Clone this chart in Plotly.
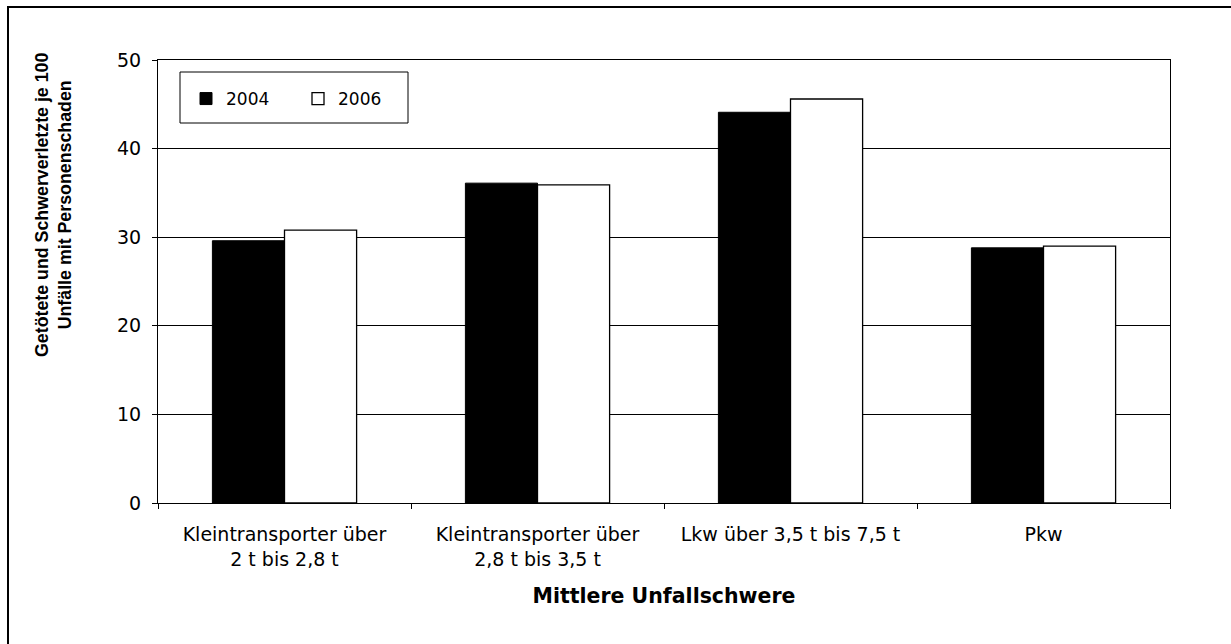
import plotly.graph_objects as go

# --- data ---------------------------------------------------------------
categories = [
    'Kleintransporter über<br>2 t bis 2,8 t',
    'Kleintransporter über<br>2,8 t bis 3,5 t',
    'Lkw über 3,5 t bis 7,5 t',
    'Pkw',
]
values_2004 = [29.6, 36.1, 44.1, 28.8]
values_2006 = [30.8, 35.9, 45.6, 29.0]
y_ticks = [0, 10, 20, 30, 40, 50]
y_title = 'Getötete und Schwerverletzte je 100<br>Unfälle mit Personenschaden'
x_title = 'Mittlere Unfallschwere'

# reference text looks like a horizontally stretched Helvetica -> DejaVu Sans fits widths
WIDE = 'DejaVu Sans, Verdana, sans-serif'
NARROW = 'Liberation Sans, Arial, sans-serif'

W, H = 1231, 644
L, R, T, B = 158, 61, 60, 141
pw, ph = W - L - R, H - T - B

def px_x(px):
    return (px - L) / pw

def px_y(py):
    return (H - B - py) / ph

fig = go.Figure()
fig.add_trace(go.Bar(x=categories, y=values_2004, name='2004',
                     marker=dict(color='black', line=dict(color='black', width=1))))
fig.add_trace(go.Bar(x=categories, y=values_2006, name='2006',
                     marker=dict(color='white', line=dict(color='black', width=1.3))))

fig.update_layout(
    width=W, height=H,
    margin=dict(l=L, r=R, t=T, b=B),
    paper_bgcolor='white', plot_bgcolor='white',
    font=dict(family=WIDE, size=19, color='black'),
    barmode='group', bargap=0.43, bargroupgap=0,
    showlegend=True,
    legend=dict(orientation='h', x=px_x(186), y=px_y(81),
                xanchor='left', yanchor='top',
                bgcolor='rgba(0,0,0,0)', borderwidth=0,
                font=dict(size=17, family=WIDE),
                entrywidth=67, entrywidthmode='pixels'),
    xaxis=dict(showline=True, linecolor='black', linewidth=1, mirror=True,
               ticks='outside', ticklen=5, tickcolor='black', tickson='boundaries',
               tickfont=dict(size=19, family=WIDE), ticklabelstandoff=14,
               title=dict(text=f'<b>{x_title}</b>',
                          font=dict(size=20.5, family=WIDE), standoff=20)),
    yaxis=dict(range=[0, 50], tickvals=y_ticks, showline=True, linecolor='black',
               linewidth=1, mirror=True, showgrid=True, gridcolor='black',
               gridwidth=1, zeroline=False, ticks='outside', ticklen=5,
               tickcolor='black', tickfont=dict(size=19, family=WIDE),
               ticklabelstandoff=7),
    # y title sits above the plot centre in the original, so it is an annotation
    annotations=[dict(text=f'<b>{y_title}</b>', textangle=-90, showarrow=False,
                      xref='paper', yref='paper', x=px_x(53), y=px_y(205),
                      xanchor='center', yanchor='middle',
                      font=dict(size=17.8, family=NARROW))],
    shapes=[
        # legend box
        dict(type='rect', xref='paper', yref='paper',
             x0=px_x(180), x1=px_x(408), y0=px_y(123), y1=px_y(72),
             line=dict(color='black', width=1), fillcolor='rgba(0,0,0,0)'),
        # outer frame (runs off the right and bottom edge like the original)
        dict(type='rect', xref='paper', yref='paper',
             x0=px_x(8), x1=px_x(1240), y0=px_y(660), y1=px_y(7),
             line=dict(color='black', width=2), fillcolor='rgba(0,0,0,0)'),
    ],
)

fig.write_html('out.html', config={'displayModeBar': False},
               post_script="document.body.style.margin='0';")
